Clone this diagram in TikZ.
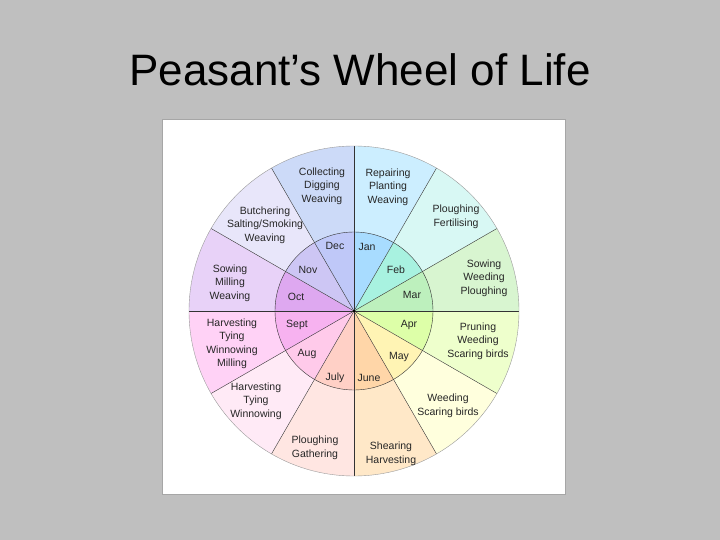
\documentclass[tikz,border=0pt]{standalone}
\usepackage{fontspec}
\setmainfont{Liberation Sans}
\begin{document}
\begin{tikzpicture}[x=1pt,y=-1pt,
  lbl/.style={align=center,font=\fontsize{10.5}{13.5}\selectfont,text=black!85},
  mon/.style={font=\fontsize{10.5}{12}\selectfont,text=black!85}]
\useasboundingbox (0,0) rectangle (720,540);
\fill[gray!50] (0,0) rectangle (720,540);
\node[font=\fontsize{44}{48}\selectfont] (title) at (360,70) {Peasant’s Wheel of Life};
\draw[fill=white,draw=black!35] (162,119) rectangle (565,494);
\coordinate (c) at (354,311);
% sectors: start angle / outer colour / inner colour (y axis points down)
\foreach \a/\co/\ci in {90/CCEEFF/A8DCFF, 60/D8F8F4/A8F2E0, 30/D8F5D0/BDF0BD, 0/EEFFCC/DDFFA8,
  -30/FFFFDD/FFF4B4, -60/FFE8C8/FFD6A8, -90/FFE6E2/FFD0C6, -120/FFEAF6/FFCAEA,
  -150/FFD2F6/F7B2F0, 180/E8D2F8/DEA8F0, 150/E8E6FA/CDC6F4, 120/CCDAF8/BFC8F8}{
  \definecolor{oc}{HTML}{\co}\definecolor{ic}{HTML}{\ci}
  \fill[oc] (c) -- ++(-\a:165) arc[start angle=-\a,end angle=-\a+30,radius=165] -- cycle;
  \fill[ic] (c) -- ++(-\a:79) arc[start angle=-\a,end angle=-\a+30,radius=79] -- cycle;
}
\foreach \a in {0,30,...,330}\draw[black!80,thin] (c) -- ++(-\a:165);
\draw[black!80,thin] (c) circle[radius=79];
\draw[black!40,thin] (c) circle[radius=165];
\fill (c) circle[radius=1.5];
% months
\node[mon] (jan) at (367,247) {Jan};
\node[mon] (feb) at (396,270) {Feb};
\node[mon] (mar) at (412,295) {Mar};
\node[mon] (apr) at (409,325) {Apr};
\node[mon] (may) at (399,357) {May};
\node[mon] (jun) at (369,378) {June};
\node[mon] (jul) at (335,378) {July};
\node[mon] (aug) at (307,354) {Aug};
\node[mon] (sep) at (297,325) {Sept};
\node[mon] (oct) at (296,297) {Oct};
\node[mon] (nov) at (308,270) {Nov};
\node[mon] (dec) at (335,246) {Dec};
% jobs
\node[lbl] (jobjan) at (388,187) {Repairing\\Planting\\Weaving};
\node[lbl] (jobfeb) at (456,217) {Ploughing\\Fertilising};
\node[lbl] (jobmar) at (484,278) {Sowing\\Weeding\\Ploughing};
\node[lbl] (jobapr) at (478,341) {Pruning\\Weeding\\Scaring birds};
\node[lbl] (jobmay) at (448,406) {Weeding\\Scaring birds};
\node[lbl] (jobjun) at (391,454) {Shearing\\Harvesting};
\node[lbl] (jobjul) at (315,448) {Ploughing\\Gathering};
\node[lbl] (jobaug) at (256,401) {Harvesting\\Tying\\Winnowing};
\node[lbl] (jobsep) at (232,344) {Harvesting\\Tying\\Winnowing\\Milling};
\node[lbl] (joboct) at (230,283) {Sowing\\Milling\\Weaving};
\node[lbl] (jobnov) at (265,225) {Butchering\\Salting/Smoking\\Weaving};
\node[lbl] (jobdec) at (322,186) {Collecting\\Digging\\Weaving};
\end{tikzpicture}
\end{document}
